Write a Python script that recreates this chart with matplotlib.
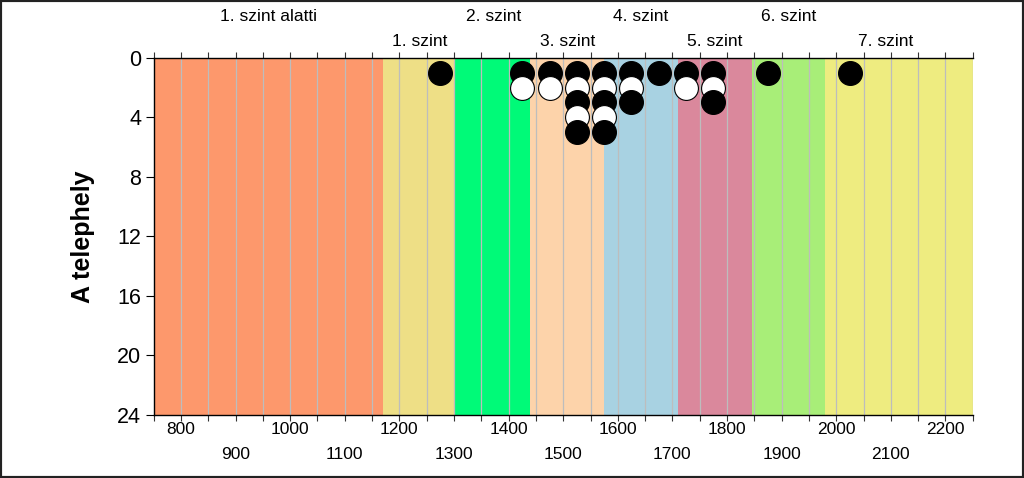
import matplotlib
matplotlib.use("Agg")
import matplotlib.pyplot as plt
from matplotlib.patches import Rectangle
from matplotlib.transforms import blended_transform_factory

plt.rcParams["font.family"] = ["Liberation Sans", "DejaVu Sans"]

# level bands (score boundaries) and their labels
band_edges = [750, 1170, 1300, 1440, 1575, 1710, 1845, 1980, 2250]
band_colors = ["#FD986C", "#EEDF86", "#00FA78", "#FDD3AA", "#A8D2E2",
               "#DA889C", "#A8EE78", "#EEEC80"]
band_labels = ["1. szint alatti", "1. szint", "2. szint", "3. szint",
               "4. szint", "5. szint", "6. szint", "7. szint"]
label_x = [960, 1237.5, 1372.5, 1507.5, 1642.5, 1777.5, 1912.5, 2090]

# dot plot: bin centres and number of stacked dots
dot_x = [1275, 1425, 1475, 1525, 1575, 1625, 1675, 1725, 1775, 1875, 2025]
dot_n = [1, 2, 2, 5, 5, 3, 1, 2, 3, 1, 1]

x_labels = list(range(800, 2201, 100))
y_ticks = [0, 4, 8, 12, 16, 20, 24]

fig = plt.figure(figsize=(10.24, 4.78), dpi=100)
ax = fig.add_axes([0.150, 0.132, 0.800, 0.747])

for i, c in enumerate(band_colors):
    ax.axvspan(band_edges[i], band_edges[i + 1], color=c, lw=0, zorder=0)

for gx in range(800, 2251, 50):
    ax.axvline(gx, color="#BDBDBD", lw=0.9, zorder=1)

for x, n in zip(dot_x, dot_n):
    for k in range(1, n + 1):
        face = "black" if k % 2 == 1 else "white"
        ax.scatter([x], [k], s=295, facecolor=face, edgecolor="black",
                   linewidth=0.8, zorder=3 + k, clip_on=False)

ax.set_xlim(750, 2250)
ax.set_ylim(24, 0)
ax.set_yticks(y_ticks)
ax.set_xticks(range(750, 2251, 50))
ax.set_xticklabels([])
ax.tick_params(axis="x", top=True, bottom=True, direction="out", length=4,
               width=0.8, color="#333333")
ax.tick_params(axis="y", direction="out", length=6, width=0.8, labelsize=15.5,
               pad=3)
ax.spines["right"].set_visible(False)
for s in ["left", "top", "bottom"]:
    ax.spines[s].set_linewidth(1.0)
    ax.spines[s].set_zorder(10)

ax.set_ylabel("A telephely", fontsize=18, fontweight="bold", labelpad=16)

tr = blended_transform_factory(ax.transData, ax.transAxes)
for i, v in enumerate(x_labels):
    y = -0.04 if i % 2 == 0 else -0.11
    ax.text(v, y, str(v), transform=tr, ha="center", va="center", fontsize=12.5)

for i, (lab, lx) in enumerate(zip(band_labels, label_x)):
    y = 1.115 if i % 2 == 0 else 1.045
    ax.text(lx, y, lab, transform=tr, ha="center", va="center", fontsize=12.5)

fig.patches.append(Rectangle((0, 0), 1, 1, transform=fig.transFigure,
                             fill=False, edgecolor="#222222", lw=3))

fig.savefig("out.png", dpi=100)
